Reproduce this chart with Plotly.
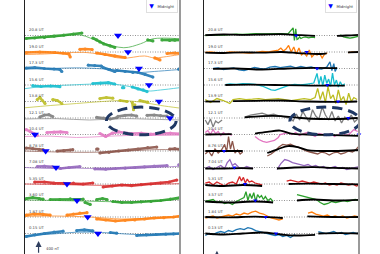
import plotly.graph_objects as go

ROW_STEP = 500  # nT between stacked stations
FONT = "DejaVu Sans"

LEFT_LABELS = ["0.15 UT", "1.87 UT", "3.60 UT", "5.35 UT", "7.08 UT", "8.78 UT", "10.4 UT",
               "12.1 UT", "13.8 UT", "15.6 UT", "17.3 UT", "19.0 UT", "20.8 UT"]
RIGHT_LABELS = ["0.13 UT", "1.84 UT", "3.57 UT", "5.31 UT", "7.04 UT", "8.76 UT", "10.4 UT",
                "12.1 UT", "13.9 UT", "15.6 UT", "17.3 UT", "19.0 UT", "20.8 UT"]
ROW_COLORS = ["#1f77b4", "#ff7f0e", "#2ca02c", "#d62728", "#9467bd", "#8c564b", "#e377c2",
              "#7f7f7f", "#bcbd22", "#17becf", "#1f77b4", "#ff7f0e", "#2ca02c"]

LEFT_MIDNIGHT = [11.3, 9.7, 8.05, 6.5, 4.8, 3.2, 1.55, 22.45, 20.75, 19.2, 17.65, 15.95, 14.4]
RIGHT_MIDNIGHT = [11.15, 9.55, 7.95, 6.35, 4.7, 3.1, 24.0, 22.35, 20.75, 19.1, 17.5, 15.9, 14.25]

N = None

# left panel: observed (dots) and fitted (thin) traces, one list per station, bottom first
LEFT_OBS_X = [
    [0.2, 1.5, 3, 4.5, 5.9, N, 8.0, 9.2, 10.5, N, 13.2, 14.2, N, 17.3, 18.8, 20.3, 21.8, 23, 24],
    [0.2, 1.5, 2.8, 3.9, N, 6.5, 7.5, 8.5, 9.6, N, 11.1, 12.5, 14, 15.5, 17, 18.5, 20, 21.5, 23, 24],
    [0.2, 1.2, 2.2, 2.8, N, 3.9, 5.4, 7, 9.0, N, 9.3, 10.1, N, 11.1, 12, 12.7, N, 13.6, 15, 16.5, 18, 19.5, 21, 22.5, 24],
    [1.5, 3, 4.5, 6, 7.5, 9, 10.5, N, 12.1, 13.5, 15, 16.5, 18, 19.5, 21, 22.3, 23.5],
    [1.9, 3, 4.2, 5.5, 6.8, 8.5, N, 10.8, 12.5, 14, 15.5, 17, 18.5, 20, 22, N, 23.8, 24],
    [0.2, 1.2, 2.2, 2.8, N, 5.0, 6.0, 7.0, 7.4, N, 11.1, 11.3, N, 11.6, 13, 14.5, 16, 17.5, 19, 20.4, N, 22.4, 23.2, 24],
    [0.2, 0.8, 1.4, 1.9, N, 3.4, 4.5, 5.5, 6.5, N, 11.6, 12.5, 13.5, 14.5, 15.8, 16.5, 18, 19.5, 21, 22.5, 24],
    [2.3, 3.0, 3.7, 4.3, N, 11.1, 12.2, 13.2, 14.2, 14.4, 15.5, 16.5, 17.3, N, 18.9, 20, 21, 22],
    [1.9, 2.3, 2.7, 3.1, N, 4.3, 5.0, 5.7, N, 11.6, 12.6, 13.6, N, 14.7, 15.8, N, 16.6, 16.8, 17.0, N, 17.8, 19.0],
    [1.2, 2.5, 4, 5.4, N, 10.5, 11.7, 12.9, 13.9, N, 15.1, 15.3, N, 16.6, 17.5, 18.3, 18.9],
    [0.2, 1.5, 3, 4.5, 5.4, 5.7, N, 9.8, 10.8, 11.8, 12.1, 13.0, 13.9, 14.2, 15.5, 16.7, 17.5, 18.6, 19.8, N, 23.8, 24],
    [0.2, 2.3, 4.6, 5.9, 6.8, 7.0, N, 8.5, 9.3, 10.4, N, 11.1, 12.4, 13.9, 15.5, N, 20.1, 20.9, N, 22.0, 23.2, 24],
    [0.2, 1.5, 3, 4.5, 6, 7.5, 8.8, N, 10.5, 11.1, 11.6, 12.2, 13.2, 13.9, N, 19.0, 19.8, N, 21.2, 22.4, 23.2, 24],
]
LEFT_OBS_Y = [
    [-90, -40, 0, 40, 70, N, 90, 110, 80, N, 30, 10, N, -60, -40, -30, -20, -10, 0],
    [60, 90, 80, 60, N, 60, 90, 120, 130, N, -60, -90, -120, -100, -90, -60, -30, -20, 0, 30],
    [60, 90, 60, 40, N, 30, 30, 50, 40, N, -60, -120, N, 30, 60, 30, N, -30, -60, -60, -40, -30, 0, 40, 90],
    [60, 60, 30, 20, 30, 0, 30, N, -90, -60, -30, -50, -20, 0, 30, 60, 120],
    [30, 40, 20, -30, 0, 30, N, -40, -50, -30, -20, 0, 20, 40, 60, N, 80, 80],
    [90, 70, 50, 40, N, 0, 10, 30, 40, N, 60, 60, N, -60, -40, 0, 30, 60, 100, 120, N, 60, 70, 50],
    [150, 90, 30, -20, N, 60, 70, 80, 60, N, 30, -60, 40, 80, 40, 30, 40, 10, 30, 40, 20],
    [30, 90, 100, 45, N, 20, 0, -30, 10, 50, 80, 90, 60, N, 80, 90, 70, 60],
    [60, 120, 30, -60, N, 60, 30, -60, N, 90, 120, 100, N, 30, 0, N, -30, -250, -100, N, 30, -20],
    [-20, -45, -30, -50, N, 45, 60, 75, 30, N, -80, -80, N, -60, -120, -150, -200],
    [15, 30, 0, -15, -30, -90, N, 100, 90, 75, 30, -30, -90, -60, -90, -120, -120, -180, -260, N, -20, -20],
    [-15, 0, -15, -30, -60, -150, N, 80, 90, 75, N, -30, -75, -120, -165, N, -180, -240, N, -45, -30, -45],
    [-90, -75, -60, -20, 10, 40, 75, N, -75, -135, -195, -255, -315, -360, N, -135, -165, N, -135, -150, -140, -135],
]
LEFT_FIT_X = [
    [0, 4, 8, 12, 16, 20, 24],
    [0, 5, 10, 15, 20, 24],
    [0, 5, 10, 15, 20, 24],
    [0, 6, 12, 18, 24],
    [0, 4, 8, 12, 16, 20, 24],
    [0, 5, 10, 15, 20, 24],
    [0, 4, 8, 12, 16, 20, 24],
    [0, 5, 10, 15, 20, 24],
    [0, 4, 8, 12, 15, 18, 21, 24],
    [0, 3, 7, 11, 14, 17, 19, 21, 24],
    [0, 4, 8, 12, 15, 17.5, 20, 24],
    [0, 3, 6, 9, 12, 15, 18.5, 20, 21.5, 24],
    [0, 4, 8.5, 11.6, 15.3, 17.9, 19.8, 24],
]
LEFT_FIT_Y = [
    [-60, -20, 40, 30, -20, -40, -10],
    [20, 30, 0, -60, -30, 0],
    [20, 0, -20, -40, -20, 40],
    [0, -20, -40, -20, 10],
    [0, -30, -20, -40, -30, 0, 40],
    [0, -30, -40, -10, 40, 40],
    [-60, -50, -90, -60, -30, -30, -20],
    [-30, -20, -60, -20, -40, -60],
    [-190, -120, -60, 0, 30, -20, -120, -200],
    [-110, -40, 0, 30, 20, -80, -180, -150, -80],
    [-20, 0, 20, -10, -60, -120, -90, -30],
    [-75, -60, -30, -10, -80, -190, -120, -180, -150, -75],
    [-70, -50, 20, -195, -370, -250, -100, -100],
]

# right panel: raw magnetometer traces and model (black)
RIGHT_OBS_X = [
    [0.2, 0.8, 1.4, 2, 2.6, 3.2, 3.8, 4.4, 5, 5.6, 6.2, 6.8, 7.4, 8, 8.6, 9.2, 9.8, 10.4, 11, 11.6, 12.2, 12.8, 13.4, 14.1,
     N, 17.7, 18.3, 18.9, 19.5, 20.1, 20.7, 21.3, 21.9, 22.5, 23.1, 23.7, 24],
    [0.2, 0.8, 1.4, 2, 2.6, 3.2, 3.8, 4.4, 5, 5.6, 6.2, 6.8, 7.4, 8, 8.6, 9.2, 9.8, 10.4, 11, 11.6, 12.2,
     N, 16.1, 16.7, 17.3, 17.9, 18.5, 19.1, 19.7, 20.3, 20.9, 21.5, 22.1, 22.7, 23.3, 24],
    [0.2, 0.8, 1.4, 2, 2.6, 3.2, 3.8, 4.4, 5, 5.6, 6.2, 6.5, 6.8, 7.1, 7.4, 7.7, 8, 8.3, 8.6, 8.9, 9.2, 9.5, 9.9, 10.3, 10.7,
     N, 14.4, 15, 15.6, 16.2, 16.8, 17.4, 18, 18.6, 19.2, 19.8, 20.4, 21, 21.6, 22.2, 22.8, 23.4, 24],
    [0.2, 0.8, 1.4, 2, 2.6, 3.2, 3.8, 4.4, 5, 5.5, 5.8, 6.1, 6.4, 6.7, 7, 7.4, 7.9, 8.4, 9,
     N, 12.8, 13.4, 14, 14.6, 15.2, 15.8, 16.4, 17, 17.6, 18.2, 18.8, 19.4, 20, 20.6, 21.2, 21.8, 22.4, 23, 23.6, 24],
    [0.2, 0.8, 1.4, 2, 2.6, 3.2, 3.6, 4, 4.4, 4.8, 5.4, 6, 6.6, 7.1, 7.6,
     N, 11.3, 11.9, 12.5, 13.1, 13.7, 14.3, 14.9, 15.5, 16.1, 16.7, 17.3, 17.9, 18.5, 19.1, 19.7, 20.3, 20.9, 21.5, 22.1, 22.7, 23.3, 24],
    [0.2, 0.7, 1.2, 1.7, 2.2, 2.7, 3.2, 3.5, 3.8, 4.1, 4.4, 4.8, 5.2, 5.6, 6.0,
     N, 9.8, 10.4, 11, 11.6, 12.2, 12.8, 13.4, 14, 14.6, 15.2, 15.8, 16.4, 17, 17.6, 18.2, 18.8, 19.4, 20, 20.6, 21.2, 21.8, 22.4, 23, 23.6, 24],
    [0.2, 0.6, 1, 1.4, 1.8, 2.2, 2.6, 3, 3.4, 3.8, 4.3,
     N, 7.9, 8.5, 9.1, 9.7, 10.3, 10.9, 11.5, 11.8, 12.4, 13, 13.6, 14.2, 14.8, 15.4, 16, 16.6, 17.2, 17.8, 18.4, 19, 19.6, 20.2, 20.8, 21.4, 22, 22.6, 23.2, 23.8],
    [0.2, 0.6, 1, 1.4, 1.8, 2.2, 2.8,
     N, 6.3, 7.2, 8.1, 9, 9.9, 10.8, 11.7, 12.6, 13.3, 13.8, 14.3, 14.8, 15.3, 15.8, 16.3, 16.8, 17.3, 17.8, 18.3, 18.8, 19.3, 19.8, 20.3, 20.8, 21.3, 21.8, 22.3, 22.8, 23.3, 23.8],
    [0.2, 1, 2, 3, 4, 4.5, 5.5, 6.5, 7.5, 8.5, 9.5, 10.5, 11.5, 12.5, 13.5, 14.5, 15.5, 16.5, 17.2, 17.6, 18, 18.4, 18.8,
     19.2, 19.6, 20, 20.4, 20.8, 21.2, 21.6, 22, 22.4, 22.8, 23.2, 23.7],
    [3.3, 4, 5, 6, 7, 8, 9, 9.8, 10.4, 11, 11.6, 12.2, 13, 14, 15, 16, 17, 17.5, 17.8, 18.1, 18.4, 18.7, 19, 19.3, 19.6,
     19.9, 20.2, 20.5, 20.8, 21.1, 21.4, 21.8],
    [1.4, 2.2, 3, 3.8, 4.6, 5.4, 6.2, 7, 7.8, 8.6, 9.4, 10.2, 11, 11.8, 12.6, 13.4, 14.2, 15, 15.8, 16.6, 17.4, 18.2, 19,
     19.5, 19.8, 20.1, 20.3, 20.6, N, 23.9, 24],
    [0.2, 1, 2, 3, 4, 5, 6, 7, 8, 9, 10, 11, 11.5, 11.9, 12.3, 12.7, 13.1, 13.5, 13.9, 14.3, 14.7, 15.1, 15.5, 15.9, 16.3,
     16.7, 17.1, 17.5, 17.9, 18.3, 18.7, 19.1, N, 22.3, 23, 23.5, 24],
    [0.2, 1, 2, 3, 4, 5, 6, 7, 8, 9, 10, 11, 12, 13, 13.8, 14.0, 14.2, 14.4, 14.6, 14.8, 15.0, 15.3, 15.7, 16.2, 16.7, 17.2,
     N, 21.1, 21.6, 22.1, 22.6, 23.1, 23.6, 24],
]
RIGHT_OBS_Y = [
    [-60, 0, -30, 30, 60, 30, 90, 60, 120, 150, 120, 180, 150, 90, 60, 30, 0, -30, -60, -30, -90, -60, -120, -30,
     N, 60, 30, 0, 30, 60, 0, 30, -30, 0, 30, 0, 30],
    [-30, 0, 30, -30, 0, 30, 60, 30, 90, 60, 120, 90, 150, 180, 120, 90, 30, -30, -60, -90, -60,
     N, 120, 150, 90, 60, 30, 60, 0, 30, 0, 30, -30, 0, 30, 0],
    [-30, 0, 30, -60, -30, -90, -60, -120, -30, 30, 90, 270, 0, 210, 60, 240, -30, 180, 90, 150, 30, 120, 0, 60, -30,
     N, 180, 150, 120, 90, 60, 30, -60, -120, -90, -30, -60, -30, 0, -30, 0, 30, 0],
    [30, 60, -30, 60, 0, -60, 30, 60, 0, 230, 90, 200, 30, 150, 60, 90, 30, 0, -30,
     N, 90, 120, 90, 60, 90, 60, 30, 60, 30, 0, 30, -30, 0, -30, 30, 0, -30, 0, -60, -30],
    [-30, 30, -60, 0, 60, -30, 150, 240, 60, 120, 0, -30, 30, 0, -30,
     N, -60, 120, 240, 210, 150, 120, 90, 60, 90, 30, 60, 0, 30, -30, 0, 30, -30, 0, -60, -30, 0, 30],
    [-90, 0, -150, 60, -60, 30, 200, -30, 440, 60, 300, -60, 30, -90, -30,
     N, -150, -90, 0, 120, 200, 180, 210, 150, 120, 60, 0, -30, -60, -90, -30, -60, -120, -60, -30, -90, -60, 0, -30, 60, 150],
    [60, 120, 0, 150, 30, 90, -30, 60, 0, 30, -30,
     N, -60, -150, -210, -240, -210, -180, -90, 0, 30, 60, 0, 60, -30, 30, 60, 0, -60, 30, 0, -30, 30, -60, 0, 60, -30, 30, 150, 90],
    [-60, -200, -30, -270, -90, -150, -60,
     N, 30, 90, 120, 150, 90, 120, 60, 30, 0, -90, 120, -60, 200, 30, -120, 250, 60, -30, 330, 90, -60, 200, -90, 60, -150, 30, -60, 90, -120, -30],
    [60, -30, 90, 30, -60, 60, 90, 60, 70, 90, 60, 80, 90, 60, 30, 60, 90, 60, 120, 400, 60, 300, -30,
     450, 90, 200, -60, 350, 30, 150, -90, 250, 0, 120, 60],
    [10, 30, 20, 40, 30, 20, -30, -100, -150, -160, -120, -60, -20, 20, 0, 30, 60, 350, 20, 260, -30, 300, 50, 180, -40,
     360, 0, 150, -60, 100, -20, 40],
    [0, 20, -30, -10, 20, -40, -60, -20, 30, 0, -20, 40, 60, 30, 40, 70, 20, 60, 30, 50, 0, -20, 40,
     200, -60, 150, -90, 30, N, 0, 0],
    [-10, 0, -20, -30, 0, -10, -20, -30, -10, 20, 0, 30, 60, 120, 30, 90, 200, 0, 150, -60, 120, -90, -30, -120, 60,
     -150, -60, -90, -40, -180, -60, -30, N, -20, 0, -10, 10],
    [0, 10, 20, 10, 30, 40, 30, 50, 60, 50, 60, 70, 60, 50, 230, -150, 200, -120, -100, -40, -90, -60, -40, -70, -50, -60,
     N, 20, -40, -60, -80, -60, -40, -20],
]
RIGHT_FIT_X = [
    [0.2, 3, 6, 9, 12, 14.1, 17.2, N, 17.7, 21, 24],
    [0.2, 4, 8, 12.2, N, 16, 20, 24],
    [0.2, 4, 8, 10.7, N, 14.4, 17, 20, 24],
    [0.2, 3, 6, 9, N, 13.1, 16, 20, 24],
    [0.2, 3, 6, 7.6, N, 11.3, 14, 17, 20, 24],
    [0.2, 6.0, N, 9.8, 11.5, 13, 14.5, 16, 20, 24],
    [0.2, 4.3, N, 7.9, 9.8, 11.8, 13.5, 16, 20, 24],
    [6.3, 9, 12, 15, 18, 21, 23.8],
    [0.2, 2.5, N, 4.5, 8, 12, 16, 20, 23.7],
    [3.3, 7, 11, 15, 18, 21.8],
    [1.4, 5, 9, 13, 17, 20.6],
    [0.2, 3, 6, 9, 12, 15, 18, 19, N, 22.3, 24],
    [0.2, 3, 6, 9, 12, 15, 17.2, N, 20.6, 22, 24],
]
RIGHT_FIT_Y = [
    [0, -30, 0, 30, -30, -60, -40, N, 0, 10, 0],
    [0, -10, 10, -30, N, 20, 0, 0],
    [-30, -60, -30, -60, N, 0, 30, 0, 20],
    [-30, -60, -30, -60, N, 0, 10, 0, -10],
    [-30, -30, -20, -30, N, -30, 0, 10, -10, -30],
    [0, 0, N, -60, 60, 150, 120, 30, 0, 30],
    [0, 10, N, 30, 80, 120, 30, 0, -20, -40],
    [20, 60, 60, 0, -30, -30, 0],
    [0, 0, N, 10, 20, 30, 0, -10, 0],
    [0, 10, 0, -10, -20, -20],
    [-10, 0, -30, 0, 20, 10],
    [-20, -30, -10, -20, 0, -40, -60, -40, N, -10, 0],
    [10, 30, 20, 30, 40, 10, -10, N, -10, 0, 20],
]

# dashed ellipse highlighting the 10.4 / 12.1 UT event (hours, nT above bottom baseline)
LEFT_ELLIPSE = {"x0": 12.6, "x1": 23.4, "y0": 2990, "y1": 3830}
RIGHT_ELLIPSE = {"x0": 13.3, "x1": 24.2, "y0": 2990, "y1": 3830}

SCALE_NT = 400
LEFT_SCALE_HOUR, LEFT_SCALE_TIP = 2.1, -225
RIGHT_SCALE_HOUR, RIGHT_SCALE_TIP = 2.0, -525

Y_RANGE = [-621, 7076]
X_RANGE = [0, 24]


def shifted(values, row):
    return [v + row * ROW_STEP if v is not None else None for v in values]


fig = go.Figure()
annotations = []
shapes = []


def add_panel(xa, ya, obs_x, obs_y, fit_x, fit_y, midnight, labels, left_style):
    for row in range(len(labels)):
        color = ROW_COLORS[row]
        fig.add_trace(go.Scatter(
            x=X_RANGE, y=[row * ROW_STEP] * 2, xaxis=xa, yaxis=ya, mode="lines",
            line=dict(color="#777777", width=0.8, dash="1px,1.5px"), showlegend=False, hoverinfo="skip"))
        if left_style:
            fig.add_trace(go.Scatter(
                x=obs_x[row], y=shifted(obs_y[row], row), xaxis=xa, yaxis=ya, mode="lines+markers",
                line=dict(color=color, width=2.6), marker=dict(color=color, size=3.2),
                opacity=0.9, showlegend=False))
            fig.add_trace(go.Scatter(
                x=fit_x[row], y=shifted(fit_y[row], row), xaxis=xa, yaxis=ya, mode="lines",
                line=dict(color=color, width=0.9, shape="spline"), opacity=0.75, showlegend=False))
        else:
            fig.add_trace(go.Scatter(
                x=obs_x[row], y=shifted(obs_y[row], row), xaxis=xa, yaxis=ya, mode="lines",
                line=dict(color=color, width=1.3), showlegend=False))
            fig.add_trace(go.Scatter(
                x=fit_x[row], y=shifted(fit_y[row], row), xaxis=xa, yaxis=ya, mode="lines",
                line=dict(color="black", width=1.8, shape="spline"), showlegend=False))
        annotations.append(dict(
            x=0.3, y=row * ROW_STEP + 170, xref=xa, yref=ya, text=labels[row], showarrow=False,
            xanchor="left", yanchor="middle", font=dict(family=FONT, size=3.8, color="#444444")))
    fig.add_trace(go.Scatter(
        x=midnight, y=[row * ROW_STEP for row in range(len(midnight))], xaxis=xa, yaxis=ya,
        mode="markers", marker=dict(symbol="triangle-down", color="#0000ff",
                                    size=7 if left_style else 4),
        showlegend=False, cliponaxis=False))


add_panel("x", "y", LEFT_OBS_X, LEFT_OBS_Y, LEFT_FIT_X, LEFT_FIT_Y, LEFT_MIDNIGHT, LEFT_LABELS, True)
add_panel("x2", "y2", RIGHT_OBS_X, RIGHT_OBS_Y, RIGHT_FIT_X, RIGHT_FIT_Y, RIGHT_MIDNIGHT, RIGHT_LABELS, False)

for xa, ya, ell in (("x", "y", LEFT_ELLIPSE), ("x2", "y2", RIGHT_ELLIPSE)):
    shapes.append(dict(type="circle", xref=xa, yref=ya, **ell,
                       line=dict(color="#1f3864", width=3, dash="10px,6px")))

for xa in ("x", "x2"):
    shapes.append(dict(type="line", xref=f"{xa} domain", yref="paper", x0=1, x1=1, y0=0, y1=1,
                       line=dict(color="#9a9a9a", width=2)))

# scale arrows
for xa, ya, hour, tip in (("x", "y", LEFT_SCALE_HOUR, LEFT_SCALE_TIP),
                          ("x2", "y2", RIGHT_SCALE_HOUR, RIGHT_SCALE_TIP)):
    annotations.append(dict(
        x=hour, y=tip, ax=hour, ay=tip - SCALE_NT, xref=xa, yref=ya, axref=xa, ayref=ya,
        text="", showarrow=True, arrowhead=2, arrowsize=1, arrowwidth=1.2, arrowcolor="#2f3f5f"))
annotations.append(dict(
    x=LEFT_SCALE_HOUR + 0.8, y=LEFT_SCALE_TIP - 230, xref="x", yref="y", text=f"{SCALE_NT} nT",
    showarrow=False, xanchor="left", font=dict(family=FONT, size=3.8, color="#333333")))

# legend boxes
for xa in ("x", "x2"):
    annotations.append(dict(
        x=0.985, y=1.005, xref=f"{xa} domain", yref="paper", xanchor="right", yanchor="top",
        text="<span style='color:#0000ff;font-size:6px'>▼</span>   Midnight", showarrow=False,
        font=dict(family=FONT, size=3.8, color="#333333"), bgcolor="white",
        bordercolor="#d8d8d8", borderwidth=0.8, borderpad=2.5))

axis_common = dict(range=X_RANGE, showgrid=False, zeroline=False, showticklabels=False, ticks="")
yaxis_common = dict(range=Y_RANGE, showgrid=False, zeroline=False, showticklabels=False, ticks="",
                    showline=True, linecolor="#222222", linewidth=1)

fig.update_layout(
    width=380, height=254,
    margin=dict(l=0, r=0, t=0, b=0),
    paper_bgcolor="white", plot_bgcolor="white",
    font=dict(family=FONT),
    xaxis=dict(domain=[25 / 380, 180 / 380], anchor="y", **axis_common),
    xaxis2=dict(domain=[204 / 380, 359 / 380], anchor="y2", **axis_common),
    yaxis=dict(anchor="x", **yaxis_common),
    yaxis2=dict(anchor="x2", **yaxis_common),
    annotations=annotations,
    shapes=shapes,
    showlegend=False,
)

# the page body has a default 8px margin; drop it so the figure sits at the window corner
fig.write_html("out.html", config={"displayModeBar": False},
               post_script="document.body.style.margin = '0';")
